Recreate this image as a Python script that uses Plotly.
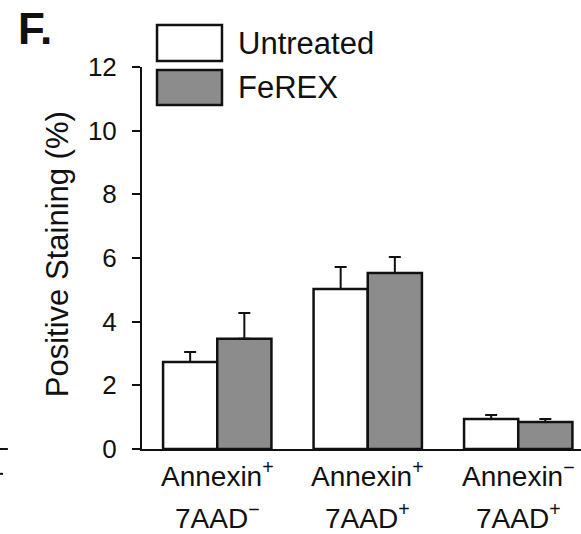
import plotly.graph_objects as go

categories = ["A+7-", "A+7+", "A-7+"]
label_line1 = ["Annexin<sup>+</sup>", "Annexin<sup>+</sup>", "Annexin<sup>−</sup>"]
label_line2 = ["7AAD<sup>−</sup>", "7AAD<sup>+</sup>", "7AAD<sup>+</sup>"]
untreated = [2.73, 5.03, 0.94]
untreated_err = [0.32, 0.69, 0.13]
ferex = [3.46, 5.53, 0.85]
ferex_err = [0.81, 0.50, 0.09]
y_ticks = [0, 2, 4, 6, 8, 10, 12]

FONT = "Liberation Sans, Arial, sans-serif"
TXT = "#111111"
GREY = "#8c8c8c"

fig = go.Figure()
fig.add_trace(go.Bar(
    x=categories, y=untreated, name="Untreated",
    marker=dict(color="white", line=dict(color=TXT, width=2.5)),
    error_y=dict(type="data", array=untreated_err, arrayminus=[0]*3, symmetric=False,
                 color=TXT, thickness=2, width=6)))
fig.add_trace(go.Bar(
    x=categories, y=ferex, name="FeREX",
    marker=dict(color=GREY, line=dict(color=TXT, width=2.5)),
    error_y=dict(type="data", array=ferex_err, arrayminus=[0]*3, symmetric=False,
                 color=TXT, thickness=2, width=6)))

fig.update_layout(
    width=581, height=534,
    margin=dict(l=142, r=0, t=67, b=85),
    paper_bgcolor="white", plot_bgcolor="white",
    barmode="group", bargap=0.28, bargroupgap=0,
    showlegend=False,
    font=dict(family=FONT, size=26, color=TXT),
)
fig.update_yaxes(range=[0, 12], tickvals=y_ticks, ticks="outside", ticklen=8, tickwidth=2,
                 tickcolor=TXT, showline=True, linewidth=2, linecolor=TXT, showgrid=False,
                 zeroline=False, ticklabelstandoff=10, tickfont=dict(size=26))
fig.update_xaxes(range=[-0.5, 2.417], showline=True, linewidth=2, linecolor=TXT, ticks="",
                 showgrid=False, showticklabels=False)

# category labels (two lines each)
for cat, l1, l2 in zip(categories, label_line1, label_line2):
    fig.add_annotation(text=l1, xref="x", yref="paper", x=cat, y=-0.066, showarrow=False,
                       xanchor="center", yanchor="middle", font=dict(size=28))
    fig.add_annotation(text=l2, xref="x", yref="paper", x=cat, y=-0.176, showarrow=False,
                       xanchor="center", yanchor="middle", font=dict(size=28))

# y-axis title
fig.add_annotation(text="Positive Staining (%)", xref="paper", yref="paper", x=-0.1936, y=0.51,
                   textangle=-90, showarrow=False, font=dict(size=31), xanchor="center", yanchor="middle")
# panel letter
fig.add_annotation(text="<b>F.</b>", xref="paper", yref="paper", x=-0.2437, y=1.102,
                   showarrow=False, font=dict(size=44), xanchor="center", yanchor="middle")

# legend boxes
legend_items = [("Untreated", "white", 1.0157, 1.110, 1.062),
                ("FeREX", GREY, 0.9005, 0.992, 0.947)]
for name, col, y0, y1, yt in legend_items:
    fig.add_shape(type="rect", xref="paper", yref="paper", x0=0.0342, x1=0.1822, y0=y0, y1=y1,
                  fillcolor=col, line=dict(color=TXT, width=2.5))
    fig.add_annotation(text=name, xref="paper", yref="paper", x=0.2141, y=yt, showarrow=False,
                       xanchor="left", yanchor="middle", font=dict(size=31))

# fragments of neighbouring panel at left edge
fig.add_shape(type="line", xref="paper", yref="paper", x0=-0.3235, x1=-0.3055, y0=0.0, y1=0.0,
              line=dict(color=TXT, width=2))
fig.add_shape(type="line", xref="paper", yref="paper", x0=-0.3235, x1=-0.3165, y0=-0.065, y1=-0.065,
              line=dict(color=TXT, width=2))

fig.write_html("out.html", config={"displayModeBar": False},
               post_script="document.body.style.margin='0';document.body.style.overflow='hidden';")
